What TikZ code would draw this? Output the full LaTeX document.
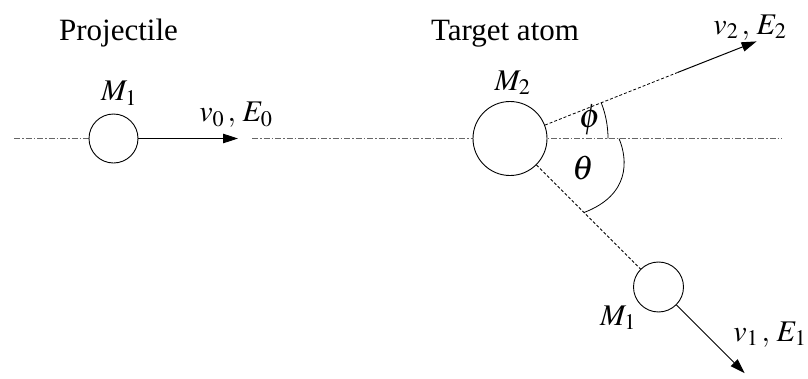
\documentclass[tikz,border=0pt]{standalone}
\usepackage{mathptmx}
\usepackage{fontspec}
\setmainfont{Liberation Serif}
\usetikzlibrary{arrows.meta,calc}
\begin{document}
\begin{tikzpicture}[x=1pt,y=1pt,
  axis/.style={draw=gray!80!black,line width=0.7pt,dash pattern=on 6pt off 2pt on 1.5pt off 2pt},
  track/.style={line width=0.8pt,dash pattern=on 3pt off 2pt},
  motion/.style={line width=1pt,-{Triangle[length=15pt,width=9.5pt]}},
  anglearc/.style={line width=0.8pt},
  ball/.style={circle,draw,line width=0.9pt,fill=white,inner sep=0pt},
  lbl/.style={anchor=base,inner sep=0pt,font=\fontsize{31}{37}\selectfont},
  sym/.style={anchor=base,inner sep=0pt,font=\fontsize{30}{36}\selectfont},
  greek/.style={anchor=center,inner sep=0pt,font=\fontsize{34}{40}\selectfont}]
\useasboundingbox (0,0) rectangle (808,-378);
% key points
\coordinate (c1) at (113.5,-138.5);
\coordinate (c2) at (510,-138.5);
\coordinate (axL) at (14,-138.5);
\coordinate (axM) at (252,-138.5);
\coordinate (axR) at (782,-138.5);
\coordinate (tip0) at (238,-138.5);
\coordinate (c3) at ($(c2)+(-45:210)$);
\coordinate (d2) at ($(c2)+(21.5:180)$);
\coordinate (tip2) at ($(c2)+(21.5:265)$);
\coordinate (tip1) at ($(c3)+(-45:122)$);
\coordinate (ph0) at ($(c2)+(98,0)$);
\coordinate (th0) at (619,-138.5);
\coordinate (th1) at (584,-212.5);
% axis
\draw[axis] (axL) -- (c1);
\draw[axis] (axM) -- (axR);
% balls
\node[ball,minimum size=49pt] (m1) at (c1) {};
\node[ball,minimum size=74pt] (m2) at (c2) {};
\node[ball,minimum size=50pt] (m3) at (c3) {};
% motions
\draw[motion] (m1.east) -- (tip0);
\draw[track] (m2.21.5) -- (d2);
\draw[motion] (d2) -- (tip2);
\draw[track] (m2.-45) -- (m3.135);
\draw[motion] (m3.-45) -- (tip1);
% angles
\draw[anglearc] (ph0) arc[start angle=0,end angle=21.5,radius=98];
\draw[anglearc] (th0) .. controls (628,-160) and (630,-195) .. (th1);
% labels
\node[lbl] (tproj) at (118.5,-40) {Projectile};
\node[lbl] (ttarg) at (505,-40) {Target atom};
\node[sym] (lm1) at (119,-100.5) {$M_1$};
\node[sym] (lv0) at (236,-121.5) {$v_0\,{,}\;E_0$};
\node[sym] (lm2) at (512.5,-90) {$M_2$};
\node[greek] (lphi) at (590,-120) {$\phi$};
\node[greek] (lth) at (583,-168) {$\theta$};
\node[sym] (lv2) at (750,-34) {$v_2\,{,}\;E_2$};
\node[sym] (lm3) at (618,-325) {$M_1$};
\node[sym] (lv1) at (770,-341) {$v_1\,{,}\;E_1$};
\end{tikzpicture}
\end{document}
